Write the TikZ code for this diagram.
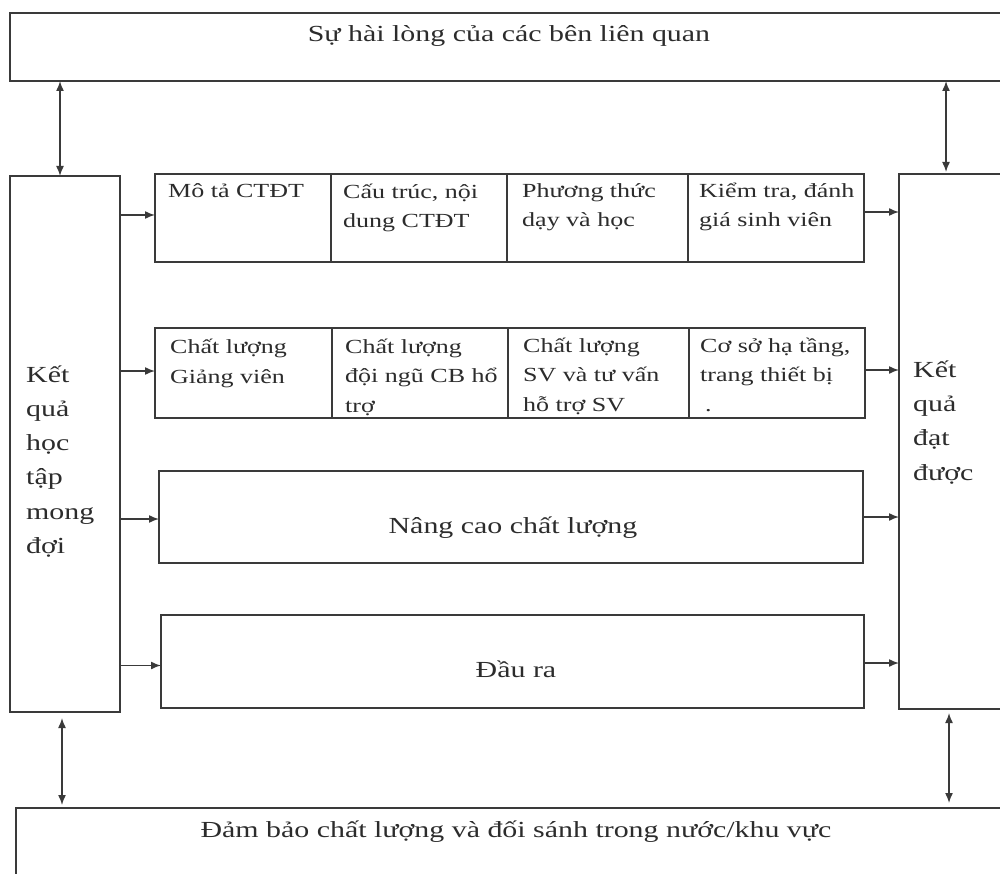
\documentclass[tikz,border=0pt]{standalone}
\usepackage{fontspec}
\setmainfont{Liberation Serif}[FakeStretch=1.3]
\usetikzlibrary{arrows.meta}
\definecolor{lc}{HTML}{3A3A3A}
\definecolor{tc}{HTML}{2C2C2C}
\newcommand{\bigtxt}{\fontsize{23}{34.3}\selectfont}
\newcommand{\celltxt}{\fontsize{20}{29.5}\selectfont}
\begin{document}
\begin{tikzpicture}[x=1pt,y=-1pt,
  box/.style={draw=lc, line width=1.7pt, inner sep=0pt, outer sep=0pt, anchor=north west, rectangle},
  big/.style={font=\bigtxt, text=tc, inner sep=0pt, align=left},
  cell/.style={font=\celltxt, text=tc, inner sep=0pt, align=left, anchor=base west},
  arr/.style={draw=lc, line width=1.5pt, -{Latex[length=10pt,width=8pt]}},
  bi/.style={draw=lc, line width=1.5pt, {Latex[length=10pt,width=8pt]}-{Latex[length=10pt,width=8pt]}}
]
\clip (0,0) rectangle (1000,874);
\useasboundingbox (0,0) rectangle (1000,874);
\fill[white] (0,0) rectangle (1000,874);

% main boxes
\node[box, minimum width=1000pt, minimum height=68pt] (T) at (10,13) {};
\node[box, minimum width=110pt, minimum height=536pt] (L) at (10,176) {};
\node[box, minimum width=111pt, minimum height=535pt] (R) at (899,174) {};
\node[box, minimum width=994pt, minimum height=100pt] (B) at (16,808) {};

% row 1
\node[box, minimum width=176pt, minimum height=88pt] (r1a) at (155,174) {};
\node[box, minimum width=176pt, minimum height=88pt] (r1b) at (331,174) {};
\node[box, minimum width=181pt, minimum height=88pt] (r1c) at (507,174) {};
\node[box, minimum width=176pt, minimum height=88pt] (r1d) at (688,174) {};
% row 2
\node[box, minimum width=177pt, minimum height=90pt] (r2a) at (155,328) {};
\node[box, minimum width=176pt, minimum height=90pt] (r2b) at (332,328) {};
\node[box, minimum width=181pt, minimum height=90pt] (r2c) at (508,328) {};
\node[box, minimum width=176pt, minimum height=90pt] (r2d) at (689,328) {};
% wide boxes
\node[box, minimum width=704pt, minimum height=92pt] (N) at (159,471) {};
\node[box, minimum width=703pt, minimum height=93pt] (D) at (161,615) {};

% texts (anchor base = baseline of the last line)
\node[big, anchor=base] (tT) at (509,42) {Sự hài lòng của các bên liên quan};
\node[big, anchor=base] (tB) at (516,837) {Đảm bảo chất lượng và đối sánh trong nước/khu vực};
\node[big, anchor=base] (tN) at (513,533) {Nâng cao chất lượng};
\node[big, anchor=base] (tD) at (516,677) {Đầu ra};
\node[big, anchor=base west] (tL) at (26,553.5) {Kết\\quả\\học\\tập\\mong\\đợi};
\node[big, anchor=base west] (tR) at (913,480) {Kết\\quả\\đạt\\được};

\node[cell] (t1a) at (168,198) {Mô tả CTĐT};
\node[cell] (t1b) at (343,228) {Cấu trúc, nội\\dung CTĐT};
\node[cell] (t1c) at (522,227) {Phương thức\\dạy và học};
\node[cell] (t1d) at (699,227) {Kiểm tra, đánh\\giá sinh viên};
\node[cell] (t2a) at (170,383) {Chất lượng\\Giảng viên};
\node[cell] (t2b) at (345,412) {Chất lượng\\đội ngũ CB hổ\\trợ};
\node[cell] (t2c) at (523,411) {Chất lượng\\SV và tư vấn\\hỗ trợ SV};
\node[cell] (t2d) at (700,411) {Cơ sở hạ tầng,\\trang thiết bị\\\hspace{5pt}.};

% vertical two-way arrows
\coordinate (xl) at (60,0);
\coordinate (xr) at (946,0);
\coordinate (xlb) at (62,0);
\coordinate (xrb) at (949,0);
\draw[bi] (T.south -| xl) -- (L.north -| xl);
\draw[bi, shorten >=2pt] (T.south -| xr) -- (R.north -| xr);
\draw[bi, shorten <=6pt, shorten >=3pt] (L.south -| xlb) -- (B.north -| xlb);
\draw[bi, shorten <=4pt, shorten >=5pt] (R.south -| xrb) -- (B.north -| xrb);

% horizontal arrows in
\draw[arr] ([yshift=3pt]r1a.west -| L.east) -- ([yshift=3pt]r1a.west);
\draw[arr] ([yshift=2pt]r2a.west -| L.east) -- ([yshift=2pt]r2a.west);
\draw[arr] ([yshift=-2pt]N.west -| L.east) -- ([yshift=-2pt]N.west);
\draw[arr] ([yshift=-4pt]D.west -| L.east) -- ([yshift=-4pt]D.west);
% horizontal arrows out
\draw[arr] ([yshift=6pt]r1d.east) -- ([yshift=6pt]r1d.east -| R.west);
\draw[arr] ([yshift=3pt]r2d.east) -- ([yshift=3pt]r2d.east -| R.west);
\draw[arr] (N.east) -- (N.east -| R.west);
\draw[arr] ([yshift=-1.5pt]D.east) -- ([yshift=-1.5pt]D.east -| R.west);
\end{tikzpicture}
\end{document}
